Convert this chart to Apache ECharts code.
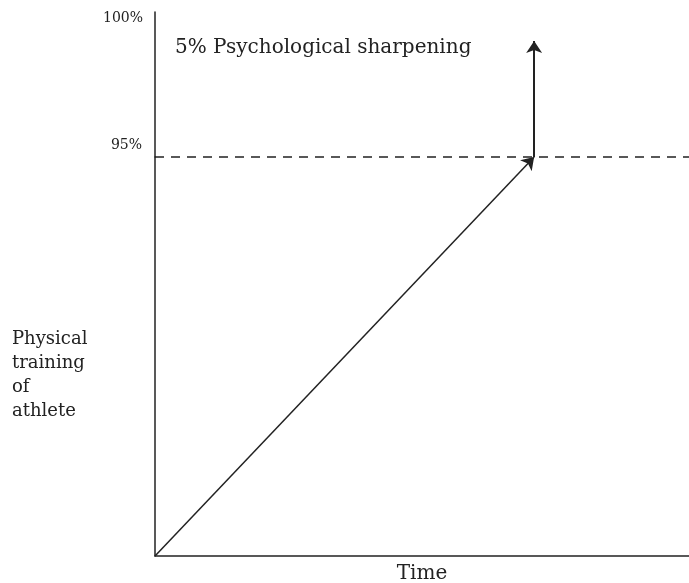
<!DOCTYPE html>
<html>
<head>
<meta charset="utf-8">
<script src="https://cdn.jsdelivr.net/npm/echarts@6/dist/echarts.min.js"></script>
<style>
  html, body { margin: 0; padding: 0; background: #fff; }
  #main { width: 689px; height: 583px; }
</style>
</head>
<body>
<div id="main"></div>
<script>
// data
const timePts = [0, 71];          // start of training, moment 95% is reached
const physicalPct = [0, 95];      // physical training level
const psychPct = [95, 99];        // psychological sharpening on top
const yTicks = [95, 100];

const ink = "#222";
const serif = "DejaVu Serif";

let chart = echarts.init(document.getElementById("main"));

let option = {
  animation: false,
  title: [
    {
      text: "5% Psychological sharpening",
      left: 170,
      top: 33,
      textStyle: { fontFamily: serif, fontSize: 20, fontWeight: "normal", color: ink },
    },
    {
      text: "Physical\ntraining\nof\nathlete",
      left: 7,
      top: 322,
      textStyle: {
        fontFamily: serif,
        fontSize: 18,
        fontWeight: "normal",
        color: ink,
        lineHeight: 24,
      },
    },
  ],
  grid: [
    // lower part 0..95
    { left: 155, right: 0, top: 157, bottom: 27, outerBoundsMode: "none" },
    // upper part 95..100 (schematic, stretched)
    { left: 155, right: 0, top: 12, height: 145, outerBoundsMode: "none" },
  ],
  xAxis: [
    {
      gridIndex: 0,
      type: "value",
      min: 0,
      max: 100,
      name: "Time",
      nameLocation: "middle",
      nameGap: 18,
      nameTextStyle: { fontFamily: serif, fontSize: 20, color: ink, verticalAlign: "middle" },
      axisLine: { lineStyle: { color: ink, width: 1.5 } },
      axisTick: { show: false },
      axisLabel: { show: false },
      splitLine: { show: false },
    },
    {
      gridIndex: 1,
      type: "value",
      min: 0,
      max: 100,
      show: false,
    },
  ],
  yAxis: [
    {
      gridIndex: 0,
      type: "value",
      min: 0,
      max: 95,
      interval: 95,
      axisLine: { show: true, lineStyle: { color: ink, width: 1.5 } },
      axisTick: { show: false },
      axisLabel: {
        fontFamily: serif,
        fontSize: 14,
        color: ink,
        margin: 13,
        verticalAlign: "bottom",
        padding: [0, 0, 5, 0],
        formatter: (v) => (v === yTicks[0] ? v + "%" : ""),
      },
      splitLine: { show: false },
    },
    {
      gridIndex: 1,
      type: "value",
      min: 95,
      max: 100,
      interval: 5,
      axisLine: { show: true, lineStyle: { color: ink, width: 1.5 } },
      axisTick: { show: false },
      axisLabel: {
        fontFamily: serif,
        fontSize: 14,
        color: ink,
        margin: 12,
        verticalAlign: "top",
        lineHeight: 12,
        formatter: (v) => (v === yTicks[1] ? v + "%" : ""),
      },
      splitLine: { show: false },
    },
  ],
  series: [
    {
      name: "Physical training",
      type: "lines",
      coordinateSystem: "cartesian2d",
      xAxisIndex: 0,
      yAxisIndex: 0,
      symbol: ["none", "arrow"],
      symbolSize: 12,
      lineStyle: { color: ink, width: 1.5, opacity: 1 },
      data: [{ coords: [[timePts[0], physicalPct[0]], [timePts[1], physicalPct[1]]] }],
      markLine: {
        silent: true,
        symbol: ["none", "none"],
        label: { show: false },
        lineStyle: { color: ink, width: 1.5, type: [9, 7] },
        data: [{ yAxis: physicalPct[1] }],
      },
    },
    {
      name: "Psychological sharpening",
      type: "lines",
      coordinateSystem: "cartesian2d",
      xAxisIndex: 1,
      yAxisIndex: 1,
      symbol: ["none", "arrow"],
      symbolSize: 12,
      lineStyle: { color: ink, width: 2, opacity: 1 },
      data: [{ coords: [[timePts[1], psychPct[0]], [timePts[1], psychPct[1]]] }],
    },
  ],
};

chart.setOption(option);
</script>
</body>
</html>
